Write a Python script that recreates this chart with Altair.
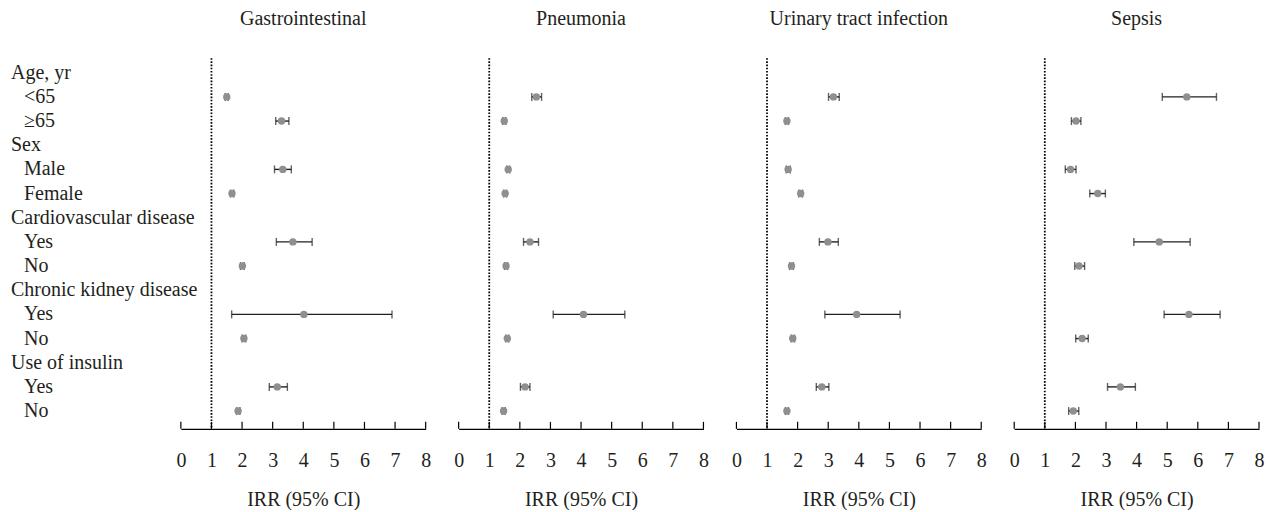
import altair as alt
import pandas as pd

FONT = "Liberation Serif"
TXT = "#231f20"

diseases = ["Gastrointestinal", "Pneumonia", "Urinary tract infection", "Sepsis"]

row_keys = ["age", "age_lt65", "age_ge65", "sex", "male", "female",
            "cvd", "cvd_yes", "cvd_no", "ckd", "ckd_yes", "ckd_no",
            "ins", "ins_yes", "ins_no"]
row_labels = ["Age, yr", "<65", "\u226565", "Sex", "Male", "Female",
              "Cardiovascular disease", "Yes", "No",
              "Chronic kidney disease", "Yes", "No",
              "Use of insulin", "Yes", "No"]
row_is_header = [1, 0, 0, 1, 0, 0, 1, 0, 0, 1, 0, 0, 1, 0, 0]
data_rows = [k for k, h in zip(row_keys, row_is_header) if not h]

# IRR, lower and upper 95% CI for each data row (in data_rows order)
gi_irr = [1.50, 3.29, 3.33, 1.67, 3.66, 2.01, 4.02, 2.06, 3.15, 1.87]
gi_lo = [1.45, 3.10, 3.06, 1.62, 3.12, 1.95, 1.66, 2.00, 2.89, 1.82]
gi_hi = [1.55, 3.53, 3.61, 1.73, 4.29, 2.07, 6.90, 2.12, 3.48, 1.93]

pn_irr = [2.54, 1.49, 1.62, 1.52, 2.33, 1.55, 4.08, 1.59, 2.17, 1.47]
pn_lo = [2.39, 1.44, 1.57, 1.47, 2.12, 1.50, 3.09, 1.54, 2.02, 1.42]
pn_hi = [2.71, 1.54, 1.67, 1.57, 2.61, 1.60, 5.43, 1.64, 2.33, 1.52]

ut_irr = [3.17, 1.65, 1.69, 2.10, 2.99, 1.80, 3.93, 1.84, 2.79, 1.65]
ut_lo = [3.01, 1.60, 1.63, 2.04, 2.71, 1.74, 2.89, 1.79, 2.61, 1.60]
ut_hi = [3.36, 1.70, 1.76, 2.16, 3.33, 1.86, 5.35, 1.90, 3.02, 1.70]

se_irr = [5.64, 2.02, 1.84, 2.73, 4.74, 2.12, 5.71, 2.22, 3.47, 1.93]
se_lo = [4.84, 1.87, 1.67, 2.47, 3.91, 1.98, 4.90, 2.01, 3.05, 1.78]
se_hi = [6.61, 2.18, 2.02, 2.98, 5.75, 2.30, 6.73, 2.42, 3.96, 2.11]

tick_values = [0, 1, 2, 3, 4, 5, 6, 7, 8]
ref_value = [1]

series = {
    "Gastrointestinal": (gi_irr, gi_lo, gi_hi),
    "Pneumonia": (pn_irr, pn_lo, pn_hi),
    "Urinary tract infection": (ut_irr, ut_lo, ut_hi),
    "Sepsis": (se_irr, se_lo, se_hi),
}

PW, PH = 245, 371
AXT = "IRR (95% CI)"

yscale = alt.Scale(type="point", domain=row_keys, padding=0.67, align=0.45)


def panel(name):
    irr, lo, hi = series[name]
    df = pd.DataFrame({"row": data_rows, "irr": irr, "lo": lo, "hi": hi})
    base = alt.Chart(df)
    xs = alt.Scale(domain=[0, 8], nice=False, zero=False)
    xaxis = alt.Axis(values=tick_values, tickCount=9, ticks=False, grid=False,
                     domain=True, domainColor="black", domainWidth=1.2,
                     labelFont=FONT, labelFontSize=20, labelColor=TXT,
                     labelPadding=22, labelOverlap=False, labelFlush=False,
                     titleFont=FONT, titleFontSize=20, titleFontWeight="normal",
                     titleColor=TXT, titlePadding=19, format="d")
    y = alt.Y("row:N", scale=yscale, axis=None)

    def X(field):
        return alt.X(field, scale=xs, axis=xaxis, title=AXT)

    ref = alt.Chart(pd.DataFrame({"v": ref_value})).mark_rule(
        color="black", strokeDash=[1.6, 1.6], strokeWidth=1.8
    ).encode(x=X("v:Q"))

    ticks = alt.Chart(pd.DataFrame({"t": tick_values})).mark_rule(
        color="black", strokeWidth=1.2
    ).encode(x=X("t:Q"), y=alt.value(PH - 7), y2=alt.value(PH))

    ci = base.mark_rule(color="#231f20", strokeWidth=1.4).encode(
        x=X("lo:Q"), x2="hi:Q", y=y)
    cap_lo = base.mark_tick(color="#231f20", thickness=1.4, size=8).encode(
        x=X("lo:Q"), y=y)
    cap_hi = base.mark_tick(color="#231f20", thickness=1.4, size=8).encode(
        x=X("hi:Q"), y=y)
    pts = base.mark_circle(color="#8f8f8f", opacity=1, size=55).encode(
        x=X("irr:Q"), y=y)

    return alt.layer(ref, ticks, ci, cap_lo, cap_hi, pts).properties(
        width=PW, height=PH,
        title=alt.TitleParams(name, font=FONT, fontSize=20, fontWeight="normal",
                              color=TXT, anchor="middle", offset=12,
                              baseline="alphabetic"),
    )


lab_df = pd.DataFrame({"row": row_keys, "label": row_labels, "header": row_is_header})
lab_base = alt.Chart(lab_df)
lab_y = alt.Y("row:N", scale=yscale, axis=None)
heads = lab_base.transform_filter("datum.header == 1").mark_text(
    align="left", baseline="middle", font=FONT, fontSize=20, color=TXT
).encode(y=lab_y, text="label:N", x=alt.value(0))
subs = lab_base.transform_filter("datum.header == 0").mark_text(
    align="left", baseline="middle", font=FONT, fontSize=20, color=TXT
).encode(y=lab_y, text="label:N", x=alt.value(13))
labels = alt.layer(heads, subs).properties(width=137, height=PH)

chart = alt.hconcat(labels, *[panel(d) for d in diseases], spacing=33).properties(
    padding={"left": 3, "right": 2, "top": 1, "bottom": 0},
    bounds="flush",
    background="white",
).configure_view(stroke=None, strokeWidth=0)

chart.save("out.html", embed_options={"renderer": "svg", "actions": False})
